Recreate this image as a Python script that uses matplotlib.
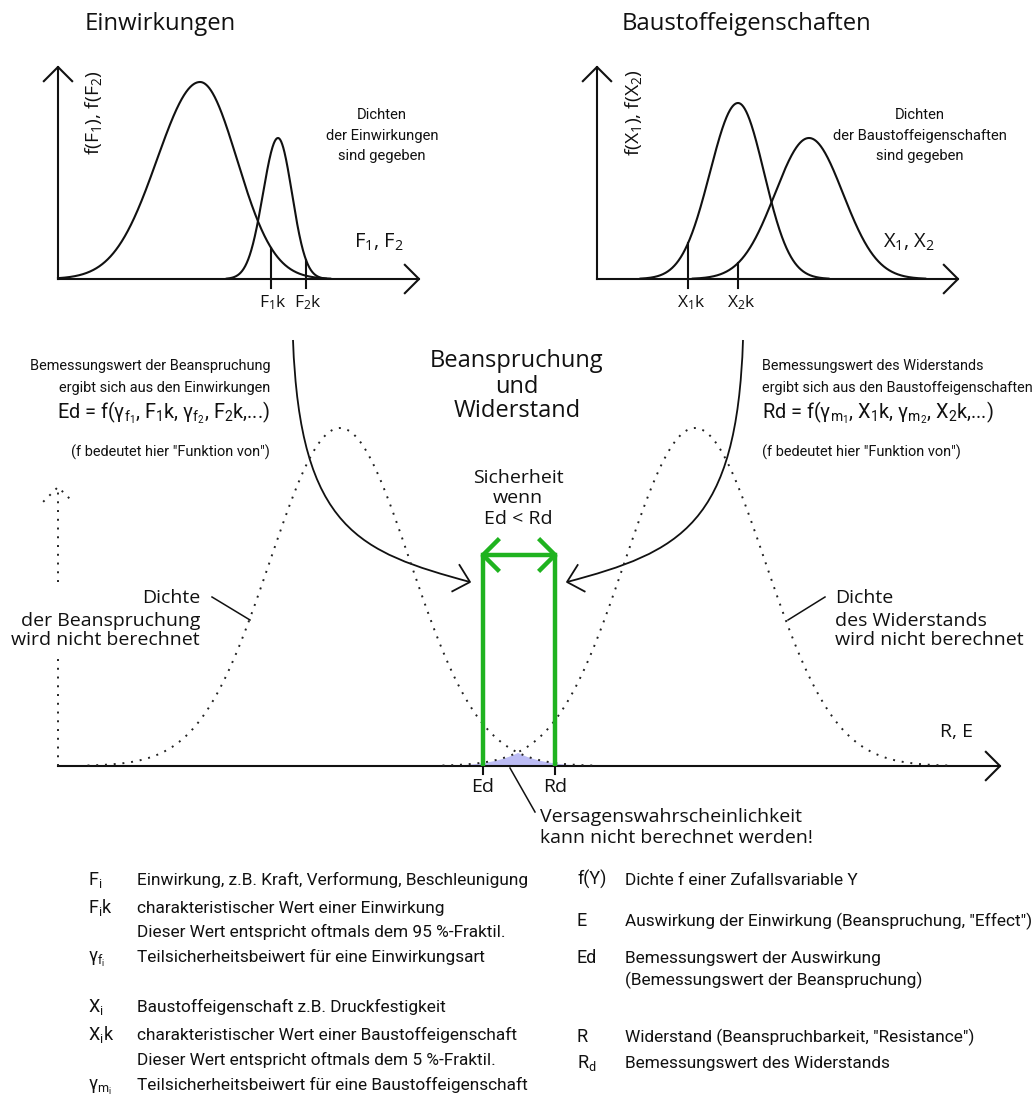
import numpy as np
import matplotlib
matplotlib.use('Agg')
import matplotlib.pyplot as plt
from matplotlib import font_manager
from matplotlib.path import Path
from matplotlib.patches import PathPatch

plt.rcParams['mathtext.default'] = 'regular'

have = {f.name for f in font_manager.fontManager.ttflist}
WIDE = 'Open Sans'
PLAIN = 'Roboto'
if 'Liberation Sans Narrow' in have:
    NARROW, NSCALE = 'Liberation Sans Narrow', 1.0
else:
    NARROW, NSCALE = 'Roboto', 0.82

# densities of the actions F1, F2 (origin at the panel axes corner)
act_mu = [142, 220]
act_sd_left = [43, 15]
act_sd_right = [37, 14]
act_peak = [197, 141]
act_k = [213, 248]
act_k_labels = ['F$_1$k', 'F$_2$k']

# densities of the material properties X1, X2
mat_mu = [141, 212]
mat_sd_left = [28, 34]
mat_sd_right = [26, 34]
mat_peak = [176, 141]
mat_k = [91, 141]
mat_k_labels = ['X$_1$k', 'X$_2$k']

# effect E and resistance R (not computed, only sketched)
er_mu = [282, 637]
er_sd = [70, 70]
er_peak = [338, 338]
ed_x, rd_x = 425, 497

sym_left = ['F$_i$', 'F$_i$k', '', 'γ$_{f_i}$', 'X$_i$', 'X$_i$k', '', 'γ$_{m_i}$']
txt_left = ['Einwirkung, z.B. Kraft, Verformung, Beschleunigung',
            'charakteristischer Wert einer Einwirkung',
            'Dieser Wert entspricht oftmals dem 95 %-Fraktil.',
            'Teilsicherheitsbeiwert für eine Einwirkungsart',
            'Baustoffeigenschaft z.B. Druckfestigkeit',
            'charakteristischer Wert einer Baustoffeigenschaft',
            'Dieser Wert entspricht oftmals dem 5 %-Fraktil.',
            'Teilsicherheitsbeiwert für eine Baustoffeigenschaft']
sym_right = ['f(Y)', 'E', 'Ed', '', 'R', 'R$_d$']
txt_right = ['Dichte f einer Zufallsvariable Y',
             'Auswirkung der Einwirkung (Beanspruchung, "Effect")',
             'Bemessungswert der Auswirkung',
             '(Bemessungswert der Beanspruchung)',
             'Widerstand (Beanspruchbarkeit, "Resistance")',
             'Bemessungswert des Widerstands']
row_left = [885, 913, 937, 962, 1012, 1040, 1065, 1090]
row_right = [885, 926, 963, 985, 1042, 1068]

BLACK = '#111111'
GREEN = '#1fb31f'
LW = 1.5


def bell(x, mu, sl, sr, h):
    s = np.where(x < mu, sl, sr)
    return h * np.exp(-0.5 * ((x - mu) / s) ** 2)


def head(ax, tip, back, length=20, half=45, **kw):
    ang = np.arctan2(back[1], back[0])
    a1, a2 = ang + np.radians(half), ang - np.radians(half)
    xs = [tip[0] + length * np.cos(a1), tip[0], tip[0] + length * np.cos(a2)]
    ys = [tip[1] + length * np.sin(a1), tip[1], tip[1] + length * np.sin(a2)]
    ax.plot(xs, ys, **kw)


def nf(size):
    return dict(family=NARROW, size=size * NSCALE)


def lines(ax, x, ys, texts, ha='left', **kw):
    for y, t in zip(ys, texts):
        ax.text(x, y, t, ha=ha, va='baseline', color=BLACK, **kw)


fig = plt.figure(figsize=(10.34, 11.03), dpi=100)
ax = fig.add_axes([0, 0, 1, 1])
ax.set_xlim(0, 1034)
ax.set_ylim(1103, 0)
ax.axis('off')


def panel(ox, oy, mu, sl, sr, h, k, klabels, kdx):
    ax.plot([ox, ox], [oy, oy - 212], color=BLACK, lw=LW)
    ax.plot([ox, ox + 361], [oy, oy], color=BLACK, lw=LW)
    head(ax, (ox, oy - 212), (0, 1), color=BLACK, lw=LW)
    head(ax, (ox + 361, oy), (-1, 0), color=BLACK, lw=LW)
    x = np.linspace(0, 360, 1441)
    for i in range(len(mu)):
        y = bell(x, mu[i], sl[i], sr[i], h[i])
        y = np.where(y > 0.4, y, np.nan)
        ax.plot(ox + x, oy - y, color=BLACK, lw=LW)
        top = bell(np.array(k[i]), mu[i], sl[i], sr[i], h[i])
        ax.plot([ox + k[i]] * 2, [oy + 9, oy - top], color=BLACK, lw=LW)
        ax.text(ox + k[i] + kdx, oy + 28, klabels[i], family=WIDE, size=12.5,
                ha='left', va='baseline', color=BLACK)


# top left: actions
panel(58, 279, act_mu, act_sd_left, act_sd_right, act_peak, act_k, act_k_labels, -12)
ax.text(85, 30, 'Einwirkungen', family=WIDE, size=17.2, va='baseline', color=BLACK)
ax.text(94, 113, 'f(F$_1$), f(F$_2$)', family=WIDE, size=14, rotation=90,
        ha='center', va='center', color=BLACK)
ax.text(354, 248, 'F$_1$, F$_2$', family=WIDE, size=14.5, va='baseline', color=BLACK)
lines(ax, 382, [119, 140, 160], ['Dichten', 'der Einwirkungen', 'sind gegeben'],
      ha='center', **nf(13))

# top right: material properties
panel(597, 279, mat_mu, mat_sd_left, mat_sd_right, mat_peak, mat_k, mat_k_labels, -11)
ax.text(622, 30, 'Baustoffeigenschaften', family=WIDE, size=17.2, va='baseline', color=BLACK)
ax.text(633, 113, 'f(X$_1$), f(X$_2$)', family=WIDE, size=14, rotation=90,
        ha='center', va='center', color=BLACK)
ax.text(883, 248, 'X$_1$, X$_2$', family=WIDE, size=14.5, va='baseline', color=BLACK)
lines(ax, 920, [119, 140, 160], ['Dichten', 'der Baustoffeigenschaften', 'sind gegeben'],
      ha='center', **nf(13))

# middle texts
lines(ax, 270, [370, 392], ['Bemessungswert der Beanspruchung',
                            'ergibt sich aus den Einwirkungen'], ha='right', **nf(12.7))
ax.text(270, 418, 'Ed = f(γ$_{f_1}$, F$_1$k, γ$_{f_2}$, F$_2$k,...)', ha='right',
        va='baseline', color=BLACK, **nf(17.5))
ax.text(270, 457, '(f bedeutet hier "Funktion von")', ha='right', va='baseline',
        color=BLACK, **nf(12.7))

lines(ax, 762, [370, 392], ['Bemessungswert des Widerstands',
                            'ergibt sich aus den Baustoffeigenschaften'], **nf(12.6))
ax.text(762, 418, 'Rd = f(γ$_{m_1}$, X$_1$k, γ$_{m_2}$, X$_2$k,...)',
        va='baseline', color=BLACK, **nf(17.5))
ax.text(762, 457, '(f bedeutet hier "Funktion von")', va='baseline',
        color=BLACK, **nf(12.7))

lines(ax, 517, [367, 393, 417], ['Beanspruchung', 'und', 'Widerstand'],
      ha='center', family=WIDE, size=17)
lines(ax, 518, [483, 503, 524], ['Sicherheit', 'wenn', 'Ed < Rd'],
      ha='center', family=WIDE, size=14)

# main diagram: effect and resistance
ox, oy = 58, 766
ax.plot([ox, ox + 942], [oy, oy], color=BLACK, lw=LW)
head(ax, (ox + 942, oy), (-1, 0), color=BLACK, lw=LW)
ax.text(957, 737, 'R, E', family=WIDE, size=14, ha='center', va='baseline', color=BLACK)
dots = dict(color='#222222', lw=1.4, linestyle=(0, (1, 3.5)))
ax.plot([ox, ox], [oy, 657], **dots)
ax.plot([ox, ox], [582, oy - 279], **dots)
head(ax, (ox, oy - 279), (0, 1), length=21, **dots)

x = np.linspace(0, 930, 1861)
dens = [bell(x, er_mu[i], er_sd[i], er_sd[i], er_peak[i]) for i in range(2)]
for d in dens:
    ax.plot(ox + x, np.where(d > 0.5, oy - d, np.nan), **dots)
overlap = np.minimum(dens[0], dens[1])
ax.fill_between(ox + x, oy, oy - overlap, where=overlap > 0.3,
                color='#bcbcf4', lw=0, zorder=1)

for xv, lab in [(ed_x, 'Ed'), (rd_x, 'Rd')]:
    ax.plot([ox + xv] * 2, [oy, oy + 8], color=BLACK, lw=LW)
    ax.plot([ox + xv] * 2, [oy, 555], color=GREEN, lw=3.2, solid_capstyle='butt', zorder=4)
    ax.text(ox + xv, 792, lab, family=WIDE, size=14, ha='center', va='baseline', color=BLACK)
ax.plot([ox + ed_x, ox + rd_x], [555, 555], color=GREEN, lw=3.2, zorder=4)
head(ax, (ox + ed_x, 555), (1, 0), length=21, color=GREEN, lw=3.2, zorder=4)
head(ax, (ox + rd_x, 555), (-1, 0), length=21, color=GREEN, lw=3.2, zorder=4)

# curved arrows from the design values down to Ed and Rd
for pts in ([(293, 340), (300, 530), (360, 552), (470, 582)],
            [(743, 340), (737, 525), (680, 552), (567, 582)]):
    p = Path(pts, [Path.MOVETO, Path.CURVE4, Path.CURVE4, Path.CURVE4])
    ax.add_patch(PathPatch(p, fill=False, color=BLACK, lw=1.3))
    back = (pts[2][0] - pts[3][0], pts[2][1] - pts[3][1])
    head(ax, pts[3], back, length=20, half=43, color=BLACK, lw=1.3)

lines(ax, 200, [603, 626, 645], ['Dichte', 'der Beanspruchung', 'wird nicht berechnet'],
      ha='right', family=WIDE, size=14)
lines(ax, 835, [603, 626, 645], ['Dichte', 'des Widerstands', 'wird nicht berechnet'],
      family=WIDE, size=14)
ax.plot([212, 250], [597, 620], color=BLACK, lw=1.1)
ax.plot([825, 788], [597, 620], color=BLACK, lw=1.1)
ax.plot([510, 535], [768, 812], color=BLACK, lw=1.1)
lines(ax, 540, [822, 843], ['Versagenswahrscheinlichkeit', 'kann nicht berechnet werden!'],
      family=WIDE, size=14)

# symbol list
for y, s, t in zip(row_left, sym_left, txt_left):
    ax.text(88, y, s, family=PLAIN, size=13, va='baseline', color=BLACK)
    ax.text(137, y, t, family=PLAIN, size=12.4, va='baseline', color=BLACK)
for y, s, t in zip(row_right, sym_right, txt_right):
    ax.text(577, y, s, family=PLAIN, size=13, va='baseline', color=BLACK)
    ax.text(625, y, t, family=PLAIN, size=12.4, va='baseline', color=BLACK)

fig.savefig('out.png', dpi=100, facecolor='white')
